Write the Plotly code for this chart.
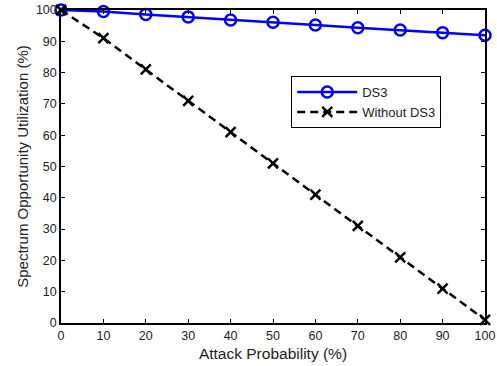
import plotly.graph_objects as go

attack_prob = [0, 10, 20, 30, 40, 50, 60, 70, 80, 90, 100]
ds3 = [100, 99.5, 98.6, 97.8, 96.8, 96.1, 95.2, 94.3, 93.6, 92.7, 91.9]
without_ds3 = [100, 91, 81, 71, 61, 51, 41, 31, 21, 11, 1]
tick_vals = [0, 10, 20, 30, 40, 50, 60, 70, 80, 90, 100]

FONT = "Liberation Sans, Arial"

fig = go.Figure()
fig.add_trace(go.Scatter(
    x=attack_prob, y=ds3, name="DS3", mode="lines+markers",
    line=dict(color="#0000ff", width=2.5),
    marker=dict(symbol="circle-open", size=11, color="#0000ff", line=dict(width=2.5)),
    cliponaxis=False))
fig.add_trace(go.Scatter(
    x=attack_prob, y=without_ds3, name="Without DS3", mode="lines+markers",
    line=dict(color="black", width=2.5, dash="8px,5px"),
    marker=dict(symbol="x-thin-open", size=10, color="black", line=dict(width=2.5, color="black")),
    cliponaxis=False))

axis_common = dict(
    range=[0, 100], tickvals=tick_vals, ticks="inside", ticklen=4, tickwidth=1,
    tickcolor="black", showline=True, linecolor="black", linewidth=1.5, mirror="ticks",
    showgrid=False, zeroline=False, automargin=False,
    tickfont=dict(family=FONT, size=12.5, color="#222"),
)
fig.update_xaxes(title=dict(text="Attack Probability (%)", standoff=6,
                            font=dict(family=FONT, size=15.5, color="#222")),
                 **axis_common)
fig.update_yaxes(title=dict(text="Spectrum Opportunity Utilization (%)", standoff=4,
                            font=dict(family=FONT, size=15, color="#222")),
                 **axis_common)

fig.update_layout(
    width=497, height=366,
    margin=dict(l=61, r=12, t=10, b=43),
    paper_bgcolor="white", plot_bgcolor="white",
    showlegend=True,
    legend=dict(x=0.543, y=0.789, xanchor="left", yanchor="top",
                bgcolor="white", bordercolor="black", borderwidth=1,
                font=dict(family=FONT, size=13, color="#222"),
                tracegroupgap=0, itemwidth=60),
)
fig.write_html("out.html")
